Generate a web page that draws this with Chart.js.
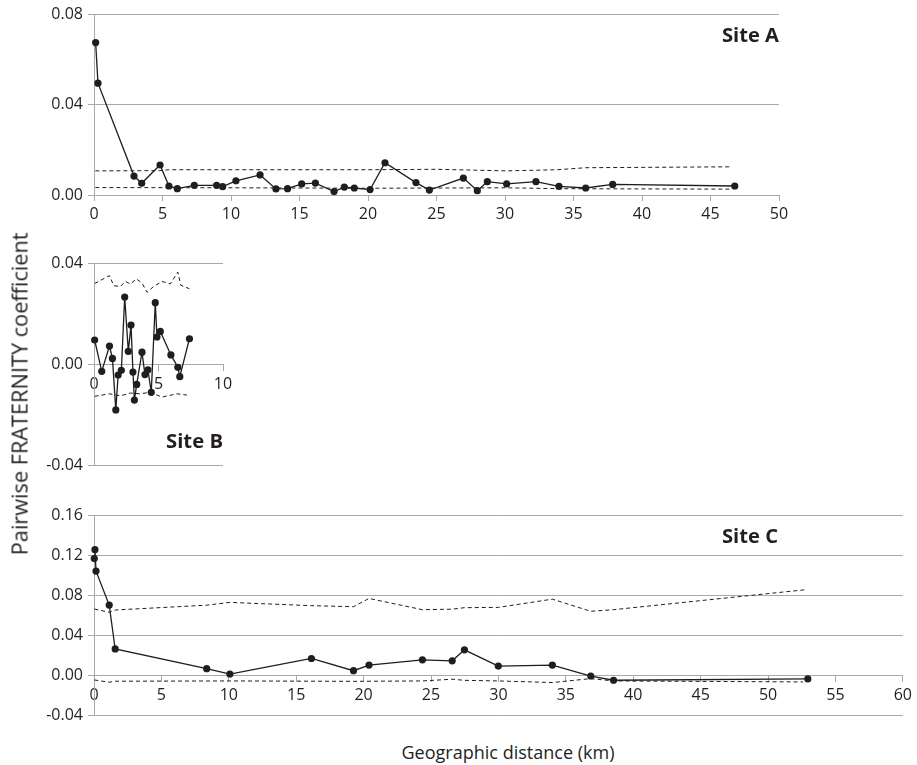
<!DOCTYPE html>
<html>
<head>
<meta charset="utf-8">
<script src="https://cdn.jsdelivr.net/npm/chart.js@4.4.0/dist/chart.umd.min.js"></script>
<style>
  html, body { margin: 0; padding: 0; background: #fff; }
  body { width: 917px; height: 765px; position: relative; overflow: hidden; font-family: "Open Sans", sans-serif; color: #231f20; }
  .panel { position: absolute; left: 0; }
  .txt { position: absolute; white-space: nowrap; color: #231f20; font-family: "Open Sans", sans-serif; }
</style>
</head>
<body>
<div class="panel" style="top:0px;width:800px;height:230px"><canvas id="cA" width="800" height="230"></canvas></div>
<div class="panel" style="top:240px;width:260px;height:240px"><canvas id="cB" width="260" height="240"></canvas></div>
<div class="panel" style="top:490px;width:917px;height:240px"><canvas id="cC" width="917" height="240"></canvas></div>

<script>
// ---------------- DATA ----------------
// Site A
const xTicksA = [0, 5, 10, 15, 20, 25, 30, 35, 40, 45, 50];
const xLabelsA = ["0", "5", "10", "15", "20", "25", "30", "35", "40", "45", "50"];
const yTicksA = [0, 0.04, 0.08];
const yLabelsA = ["0.00", "0.04", "0.08"];
const siteA_dist = [0.12, 0.29, 2.92, 3.48, 4.82, 5.47, 6.08, 7.32, 8.95, 9.39, 10.36, 12.12, 13.28, 14.13, 15.16, 16.16, 17.52, 18.27, 19.0, 20.15, 21.24, 23.5, 24.48, 26.96, 27.98, 28.71, 30.12, 32.26, 33.94, 35.89, 37.86, 46.77];
const siteA_coef = [0.0676, 0.0496, 0.0084, 0.0052, 0.0133, 0.0040, 0.0028, 0.0043, 0.0043, 0.0037, 0.0063, 0.0089, 0.0027, 0.0028, 0.0049, 0.0053, 0.0015, 0.0035, 0.0031, 0.0024, 0.0143, 0.0055, 0.0022, 0.0075, 0.0019, 0.0059, 0.0049, 0.0059, 0.0038, 0.0031, 0.0047, 0.0040];
const siteA_upperDist = [0.1, 4.8, 5.5, 20, 25, 30.1, 33.8, 35.9, 46.5];
const siteA_upperCoef = [0.0107, 0.0108, 0.0112, 0.0112, 0.0114, 0.0107, 0.0112, 0.0121, 0.0125];
const siteA_lowerDist = [0.1, 10, 20, 30, 34, 46.5];
const siteA_lowerCoef = [0.0033, 0.0032, 0.0030, 0.0032, 0.0028, 0.0026];

// Site B
const xTicksB = [0, 5, 10];
const xLabelsB = ["0", "5", "10"];
const yTicksB = [-0.04, 0, 0.04];
const yLabelsB = ["-0.04", "0.00", "0.04"];
const siteB_dist = [0.05, 0.60, 1.20, 1.43, 1.69, 1.87, 2.12, 2.38, 2.66, 2.87, 3.02, 3.13, 3.31, 3.72, 3.95, 4.18, 4.44, 4.75, 4.88, 5.14, 5.96, 6.50, 6.65, 7.40];
const siteB_coef = [0.0095, -0.0029, 0.0071, 0.0022, -0.0182, -0.0044, -0.0025, 0.0265, 0.0050, 0.0154, -0.0032, -0.0143, -0.0081, 0.0047, -0.0042, -0.0023, -0.0112, 0.0243, 0.0107, 0.0129, 0.0036, -0.0013, -0.0050, 0.0100];
const siteB_upperDist = [0.05, 1.20, 1.53, 2.05, 2.43, 2.82, 3.28, 3.72, 4.11, 4.62, 5.27, 5.91, 6.50, 6.73, 7.40];
const siteB_upperCoef = [0.0319, 0.0350, 0.0310, 0.0307, 0.0327, 0.0317, 0.0337, 0.0321, 0.0284, 0.0307, 0.0327, 0.0317, 0.0364, 0.0312, 0.0298];
const siteB_lowerDist = [0.05, 1.21, 2.05, 2.82, 3.59, 4.36, 5.27, 6.43, 7.20];
const siteB_lowerCoef = [-0.0128, -0.0118, -0.0126, -0.0115, -0.0118, -0.0112, -0.0131, -0.0118, -0.0123];

// Site C
const xTicksC = [0, 5, 10, 15, 20, 25, 30, 35, 40, 45, 50, 55, 60];
const xLabelsC = ["0", "5", "10", "15", "20", "25", "30", "35", "40", "45", "50", "55", "60"];
const yTicksC = [-0.04, 0, 0.04, 0.08, 0.12, 0.16];
const yLabelsC = ["-0.04", "0.00", "0.04", "0.08", "0.12", "0.16"];
const siteC_dist = [0.02, 0.07, 0.15, 1.13, 1.57, 8.36, 10.08, 16.13, 19.25, 20.40, 24.36, 26.57, 27.48, 29.99, 34.0, 36.85, 38.54, 52.95];
const siteC_coef = [0.1165, 0.1254, 0.1040, 0.0701, 0.0263, 0.0066, 0.0013, 0.0168, 0.0046, 0.0102, 0.0155, 0.0145, 0.0254, 0.0092, 0.0102, -0.0007, -0.0049, -0.0036];
const siteC_upperDist = [0.02, 1.13, 1.57, 8.36, 10.08, 16.13, 19.25, 20.40, 24.36, 26.57, 27.48, 29.99, 34.0, 36.85, 38.54, 52.9];
const siteC_upperCoef = [0.0662, 0.0629, 0.0652, 0.0700, 0.0728, 0.0695, 0.0685, 0.0767, 0.0655, 0.0660, 0.0675, 0.0678, 0.0760, 0.0639, 0.0655, 0.0856];
const siteC_lowerDist = [0.02, 1.13, 1.57, 10.08, 19.25, 24.36, 26.57, 27.48, 29.99, 34.0, 36.85, 38.54, 52.6];
const siteC_lowerCoef = [-0.0046, -0.0069, -0.0059, -0.0056, -0.0060, -0.0056, -0.0039, -0.0050, -0.0056, -0.0072, -0.0033, -0.0056, -0.0066];

// ---------------- CHARTS ----------------
const GRID = '#a8a8a8';
const INK = '#1e1e1e';
const TICKFONT = { family: '"Open Sans", sans-serif', size: 16 };

function pts(xs, ys) { return xs.map((x, i) => ({ x: x, y: ys[i] })); }

function makePanel(id, o) {
  return new Chart(document.getElementById(id), {
    type: 'scatter',
    data: {
      datasets: [
        { data: pts(o.upX, o.upY), showLine: true, borderColor: INK, borderWidth: 1, borderDash: [4, 3], pointRadius: 0, clip: false, order: 2 },
        { data: pts(o.loX, o.loY), showLine: true, borderColor: INK, borderWidth: 1, borderDash: [4, 3], pointRadius: 0, clip: false, order: 2 },
        { data: pts(o.x, o.y), showLine: true, borderColor: INK, borderWidth: 1.3, pointRadius: 3.6, pointBackgroundColor: INK, pointBorderWidth: 0, clip: false, order: 1 }
      ]
    },
    options: {
      responsive: false,
      animation: false,
      events: [],
      layout: { padding: o.pad },
      plugins: { legend: { display: false }, tooltip: { enabled: false } },
      scales: {
        x: {
          type: 'linear', min: o.xmin, max: o.xmax, position: o.xpos,
          afterBuildTicks: s => { s.ticks = o.xTicks.map(v => ({ value: v })); },
          ticks: { callback: (v, i) => o.xLabels[i], font: TICKFONT, color: '#231f20', padding: o.xpad, maxRotation: 0, autoSkip: false },
          grid: { drawOnChartArea: false, drawTicks: true, tickLength: 6, color: GRID },
          border: { display: true, color: GRID },
          afterFit: s => { if (o.xh != null) s.height = o.xh; }
        },
        y: {
          type: 'linear', min: o.ymin, max: o.ymax,
          afterBuildTicks: s => { s.ticks = o.yTicks.map(v => ({ value: v })); },
          ticks: { callback: (v, i) => o.yLabels[i], font: TICKFONT, color: '#231f20', padding: 5, autoSkip: false },
          grid: { color: GRID, tickLength: 6, drawTicks: true },
          border: { display: true, color: GRID },
          afterFit: s => { s.width = 94; }
        }
      }
    }
  });
}

makePanel('cA', {
  x: siteA_dist, y: siteA_coef, upX: siteA_upperDist, upY: siteA_upperCoef, loX: siteA_lowerDist, loY: siteA_lowerCoef,
  xmin: 0, xmax: 50, ymin: 0, ymax: 0.08, xTicks: xTicksA, xLabels: xLabelsA, yTicks: yTicksA, yLabels: yLabelsA,
  xpos: 'bottom', xh: 35, xpad: 4, pad: { left: 0, right: 21, top: 14, bottom: 0 }
});
makePanel('cB', {
  x: siteB_dist, y: siteB_coef, upX: siteB_upperDist, upY: siteB_upperCoef, loX: siteB_lowerDist, loY: siteB_lowerCoef,
  xmin: 0, xmax: 10, ymin: -0.04, ymax: 0.04, xTicks: xTicksB, xLabels: xLabelsB, yTicks: yTicksB, yLabels: yLabelsB,
  xpos: { y: 0 }, xh: null, xpad: 5, pad: { left: 0, right: 37, top: 23, bottom: 15 }
});
makePanel('cC', {
  x: siteC_dist, y: siteC_coef, upX: siteC_upperDist, upY: siteC_upperCoef, loX: siteC_lowerDist, loY: siteC_lowerCoef,
  xmin: 0, xmax: 60, ymin: -0.04, ymax: 0.16, xTicks: xTicksC, xLabels: xLabelsC, yTicks: yTicksC, yLabels: yLabelsC,
  xpos: { y: 0 }, xh: null, xpad: 5, pad: { left: 0, right: 11, top: 25, bottom: 12 }
});

// ---------------- TEXT LABELS ----------------
const mctx = document.createElement('canvas').getContext('2d');
function fitSize(text, weight, width) {
  mctx.font = weight + ' 100px "Open Sans"';
  return 100 * width / mctx.measureText(text).width;
}
function addText(text, weight, width, cx, cy, align, rotate) {
  const s = fitSize(text, weight, width);
  const d = document.createElement('div');
  d.className = 'txt';
  d.textContent = text;
  d.style.fontWeight = weight;
  d.style.fontSize = s.toFixed(2) + 'px';
  d.style.lineHeight = s.toFixed(2) + 'px';
  document.body.appendChild(d);
  const w = d.offsetWidth, h = d.offsetHeight;
  if (rotate) {
    d.style.left = (cx - w / 2) + 'px';
    d.style.top = (cy - h / 2) + 'px';
    d.style.transform = 'rotate(-90deg)';
  } else {
    const left = align === 'right' ? cx - w : cx - w / 2;
    d.style.left = left + 'px';
    d.style.top = (cy - 0.531 * s) + 'px';
  }
}
addText('Site A', 700, 57, 779, 34.5, 'right');
addText('Site B', 700, 57, 223, 441, 'right');
addText('Site C', 700, 56, 778, 536, 'right');
addText('Geographic distance (km)', 400, 213, 508, 752.5, 'center');
addText('Pairwise FRATERNITY coefficient', 400, 323, 19, 394, 'center', true);
</script>
</body>
</html>
